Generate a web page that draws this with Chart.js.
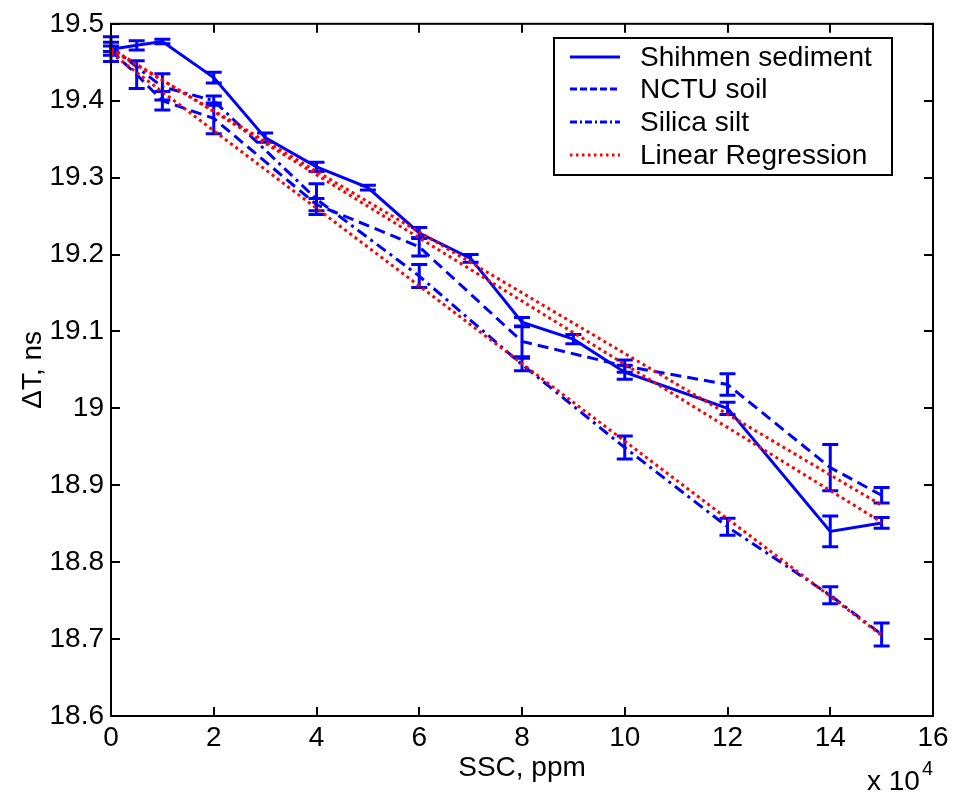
<!DOCTYPE html>
<html>
<head>
<meta charset="utf-8">
<title>ΔT vs SSC</title>
<script src="https://cdn.jsdelivr.net/npm/chart.js@4.4.1/dist/chart.umd.min.js"></script>
<style>
  html, body { margin: 0; padding: 0; background: #ffffff; }
  #wrap { width: 957px; height: 802px; }
</style>
</head>
<body>
<div id="wrap"><canvas id="chart" width="957" height="802"></canvas></div>
<script>
// Travel-time difference (ns) against suspended sediment concentration (x 10^4 ppm)
const shihmenSSC = [0, 0.5, 1, 2, 3, 4, 5, 6, 7, 8, 9, 10, 12, 14, 15];
const shihmenDT  = [19.467, 19.472, 19.477, 19.430, 19.352, 19.314, 19.287, 19.228, 19.195, 19.112, 19.090, 19.047, 19.000, 18.840, 18.851];
const shihmenErr = [0.016, 0.006, 0.003, 0.007, 0.006, 0.006, 0.003, 0.007, 0.005, 0.006, 0.006, 0.009, 0.008, 0.020, 0.007];

const nctuSSC = [0, 0.5, 1, 2, 4, 6, 8, 10, 12, 14, 15];
const nctuDT  = [19.465, 19.434, 19.400, 19.377, 19.265, 19.210, 19.087, 19.055, 19.031, 18.923, 18.887];
const nctuErr = [0.006, 0.018, 0.012, 0.020, 0.008, 0.012, 0.020, 0.008, 0.014, 0.030, 0.010];

const silicaSSC = [0, 1, 2, 4, 6, 8, 10, 12, 14, 15];
const silicaDT  = [19.470, 19.418, 19.400, 19.272, 19.172, 19.057, 18.949, 18.846, 18.757, 18.706];
const silicaErr = [0.006, 0.017, 0.006, 0.020, 0.015, 0.008, 0.015, 0.011, 0.011, 0.015];

// fitted lines, end points at SSC = 0 and 15
const fitSSC       = [0, 15];
const fitShihmenDT = [19.468, 18.852];
const fitNctuDT    = [19.466, 18.874];
const fitSilicaDT  = [19.462, 18.705];

const xTicks = [0, 2, 4, 6, 8, 10, 12, 14, 16];
const yTicks = [18.6, 18.7, 18.8, 18.9, 19.0, 19.1, 19.2, 19.3, 19.4, 19.5];

const legendLabels = ['Shihmen sediment', 'NCTU soil', 'Silica silt', 'Linear Regression'];

const BLUE = '#0000ff';
const RED = '#ff0000';
const FONT = '"Liberation Sans", Arial, Helvetica, sans-serif';

function pts(xs, ys) { return xs.map((x, i) => ({ x: x, y: ys[i] })); }

const dashSolid = [];
const dashDashed = [11, 6];
const dashDashDot = [11, 5, 3, 5];
const dashDotted = [3, 3.5];

function fitSet(ys) {
  return {
    data: pts(fitSSC, ys), showLine: true, borderColor: RED, borderWidth: 3,
    borderDash: dashDotted, pointRadius: 0, fill: false
  };
}
function seriesSet(xs, ys, errs, dash) {
  return {
    data: pts(xs, ys), errors: errs, showLine: true, borderColor: BLUE, borderWidth: 3,
    borderDash: dash, pointRadius: 0, fill: false
  };
}

// vertical error bars with caps, drawn through the chart scales
const errorBars = {
  id: 'errorBars',
  beforeDatasetsDraw(chart) {
    const ctx = chart.ctx, xs = chart.scales.x, ys = chart.scales.y;
    ctx.save();
    ctx.strokeStyle = BLUE;
    ctx.lineWidth = 3;
    ctx.setLineDash([]);
    chart.data.datasets.forEach(ds => {
      if (!ds.errors) return;
      ds.data.forEach((p, i) => {
        const e = ds.errors[i];
        const px = xs.getPixelForValue(p.x);
        const yt = ys.getPixelForValue(p.y + e);
        const yb = ys.getPixelForValue(p.y - e);
        ctx.beginPath();
        ctx.moveTo(px, yt); ctx.lineTo(px, yb);
        ctx.moveTo(px - 8, yt); ctx.lineTo(px + 8, yt);
        ctx.moveTo(px - 8, yb); ctx.lineTo(px + 8, yb);
        ctx.stroke();
      });
    });
    ctx.restore();
  }
};

// boxed axes with inward ticks, axis titles, exponent note and legend
const frame = {
  id: 'frame',
  afterDraw(chart) {
    const ctx = chart.ctx, a = chart.chartArea, xs = chart.scales.x, ys = chart.scales.y;
    ctx.save();
    ctx.strokeStyle = '#000';
    ctx.lineWidth = 2;
    ctx.setLineDash([]);
    const tl = 9;
    ctx.beginPath();
    xTicks.forEach(v => {
      const px = Math.round(xs.getPixelForValue(v));
      ctx.moveTo(px, a.bottom); ctx.lineTo(px, a.bottom - tl);
      ctx.moveTo(px, a.top); ctx.lineTo(px, a.top + tl);
    });
    yTicks.forEach(v => {
      const py = Math.round(ys.getPixelForValue(v));
      ctx.moveTo(a.left, py); ctx.lineTo(a.left + tl, py);
      ctx.moveTo(a.right, py); ctx.lineTo(a.right - tl, py);
    });
    ctx.stroke();
    ctx.strokeRect(a.left, a.top, a.right - a.left, a.bottom - a.top);

    ctx.fillStyle = '#000';
    ctx.font = '28px ' + FONT;
    ctx.textAlign = 'center';
    ctx.textBaseline = 'middle';
    ctx.fillText('SSC, ppm', (a.left + a.right) / 2, 768);

    ctx.save();
    ctx.translate(33, (a.top + a.bottom) / 2);
    ctx.rotate(-Math.PI / 2);
    ctx.fillText('\u0394T, ns', 0, 0);
    ctx.restore();

    ctx.textAlign = 'left';
    ctx.fillText('x 10', 867, 782);
    ctx.font = '20px ' + FONT;
    ctx.fillText('4', 922, 769);

    // legend
    const lx = 554, ly = 38, lw = 338, lh = 137;
    ctx.fillStyle = '#fff';
    ctx.fillRect(lx, ly, lw, lh);
    ctx.strokeStyle = '#000';
    ctx.lineWidth = 2;
    ctx.strokeRect(lx, ly, lw, lh);
    const rows = [57, 89, 122, 155];
    const styles = [
      { c: BLUE, d: [] },
      { c: BLUE, d: [7, 3] },
      { c: BLUE, d: [7, 3, 2, 3] },
      { c: RED, d: [2.5, 3.5] }
    ];
    ctx.font = '28px ' + FONT;
    ctx.textBaseline = 'middle';
    rows.forEach((y, i) => {
      ctx.strokeStyle = styles[i].c;
      ctx.lineWidth = 3;
      ctx.setLineDash(styles[i].d);
      ctx.beginPath();
      ctx.moveTo(570, y); ctx.lineTo(620, y);
      ctx.stroke();
      ctx.setLineDash([]);
      ctx.fillStyle = '#000';
      ctx.fillText(legendLabels[i], 640, y + 1);
    });
    ctx.restore();
  }
};

const fmt = v => String(Number(Number(v).toFixed(1)));

new Chart(document.getElementById('chart'), {
  type: 'scatter',
  data: {
    datasets: [
      fitSet(fitShihmenDT),
      fitSet(fitNctuDT),
      fitSet(fitSilicaDT),
      seriesSet(shihmenSSC, shihmenDT, shihmenErr, dashSolid),
      seriesSet(nctuSSC, nctuDT, nctuErr, dashDashed),
      seriesSet(silicaSSC, silicaDT, silicaErr, dashDashDot)
    ]
  },
  options: {
    responsive: false,
    animation: false,
    devicePixelRatio: 1,
    layout: { padding: { left: 0, right: 24, top: 21, bottom: 0 } },
    plugins: { legend: { display: false }, tooltip: { enabled: false } },
    scales: {
      x: {
        type: 'linear', min: 0, max: 16,
        afterBuildTicks: s => { s.ticks = xTicks.map(v => ({ value: v })); },
        afterFit: s => { s.height = 86; },
        grid: { display: false, drawTicks: false },
        border: { display: false },
        ticks: { color: '#000', font: { size: 28, family: FONT }, padding: 5, maxRotation: 0, autoSkip: false, callback: v => String(v) }
      },
      y: {
        type: 'linear', min: 18.6, max: 19.5,
        afterBuildTicks: s => { s.ticks = yTicks.map(v => ({ value: v })); },
        afterFit: s => { s.width = 111; },
        grid: { display: false, drawTicks: false },
        border: { display: false },
        ticks: { color: '#000', font: { size: 28, family: FONT }, padding: 7, autoSkip: false, callback: v => fmt(v) }
      }
    }
  },
  plugins: [errorBars, frame]
});
</script>
</body>
</html>
